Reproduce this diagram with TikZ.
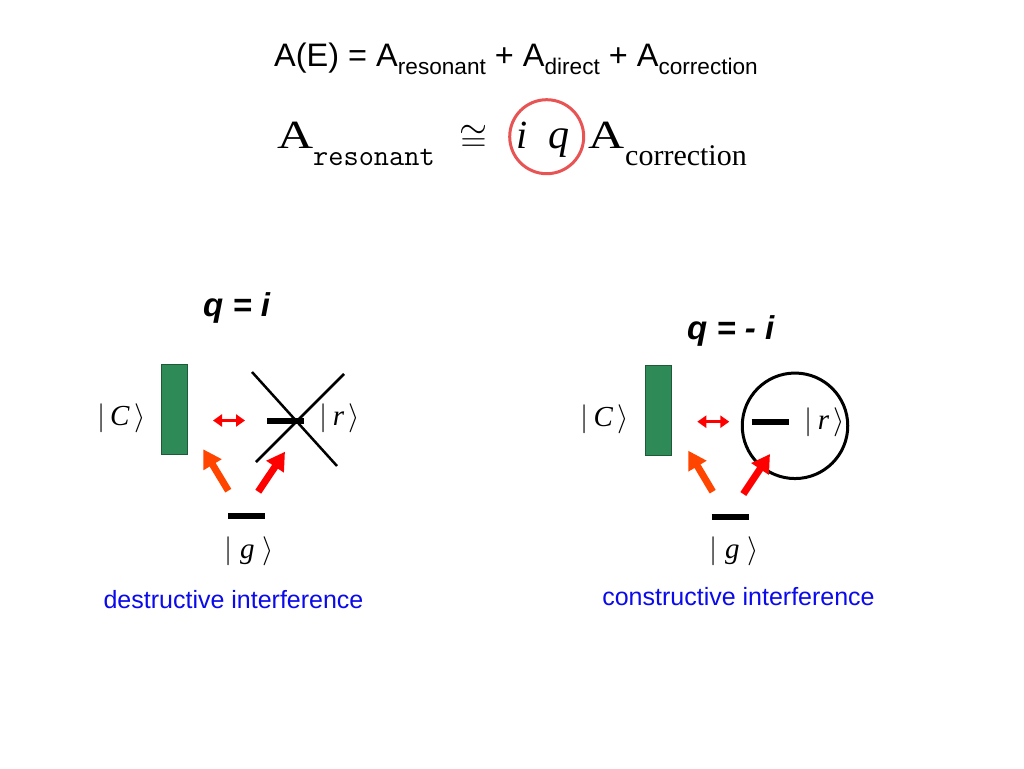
\RequirePackage{fix-cm}
\documentclass[tikz,border=0pt]{standalone}
\usepackage{fontspec}
\usepackage{graphicx}
\usetikzlibrary{arrows.meta}
\newfontfamily\arialf{Liberation Sans}
\newfontfamily\timesf{Liberation Serif}
\definecolor{ketgreen}{RGB}{46,139,87}
\definecolor{ketgreenb}{RGB}{30,90,55}
\definecolor{orred}{RGB}{255,69,0}
\definecolor{circred}{RGB}{232,84,84}
\definecolor{txtblue}{RGB}{10,10,235}
\newcommand\mysub[1]{\raisebox{-7.6pt}{\fontsize{22.6}{24}\selectfont #1}}
\newcommand\wideA{\scalebox{1.25}[1]{A}}
\newcommand\kl[1]{\mbox{\timesf\itshape #1}}
\begin{document}
\begin{tikzpicture}[x=1pt,y=-1pt,
  greenbox/.style={draw=ketgreenb, fill=ketgreen, line width=1pt, minimum width=26pt, minimum height=90pt, inner sep=0pt},
  ket/.style={inner sep=0pt, font=\fontsize{29}{30}\selectfont},
  levelbar/.style={line width=6pt},
  xline/.style={line width=2.5pt},
  dblarrow/.style={red, line width=3pt, {Triangle[width=12pt,length=9pt]}-{Triangle[width=12pt,length=9pt]}},
  fatarrow/.style={line width=7pt, -{Triangle[width=20pt,length=18pt]}},
  qlabel/.style={inner sep=0pt, anchor=base west, font=\arialf\bfseries\itshape\fontsize{33}{36}\selectfont},
  note/.style={inner sep=0pt, anchor=base, text=txtblue, font=\arialf\fontsize{25}{30}\selectfont},
  serifbig/.style={inner sep=0pt, font=\timesf\fontsize{40}{44}\selectfont},
  ring/.style={draw, circle, line width=3pt, inner sep=0pt}
]
\useasboundingbox (0,0) rectangle (1024,768);
\fill[white] (0,0) rectangle (1024,768);

% ---- top equations
\node[anchor=base west, inner sep=0pt, font=\arialf\fontsize{32.5}{40}\selectfont] (eqsum) at (274,66.7)
  {A(E) = A\mysub{resonant} + A\mysub{direct} + A\mysub{correction}};

\node[serifbig, anchor=base west] (ares) at (277,148.3) {\wideA};
\node[anchor=base west, inner sep=0pt, font=\fontsize{29.5}{32}\selectfont\ttfamily] (sres) at (313,165) {resonant};
\node[inner sep=0pt, anchor=base, font=\fontsize{36}{40}\selectfont] (cong) at (473.5,150.6) {$\cong$};
\node[serifbig, anchor=base, font=\timesf\itshape\fontsize{40}{44}\selectfont] (iota) at (522.5,148.3) {i};
\node[serifbig, anchor=base, font=\timesf\itshape\fontsize{42}{44}\selectfont] (qq) at (559,148.3) {q};
\node[serifbig, anchor=base west] (acor) at (588,148.3) {\wideA};
\node[anchor=base west, inner sep=0pt, font=\timesf\fontsize{30}{32}\selectfont] (scor) at (625,165) {correction};
\node[ring, draw=circred, minimum size=74pt] (iqring) at (546.7,136.7) {};

% ---- left diagram: q = i
\node[qlabel] (qL) at (203,316.7) {q = i};
\node[greenbox] (cL) at (174,409) {};
\node[ket] (cLlab) at (121.5,418) {$|\,\kl{C}\,\rangle$};
\coordinate (dLa) at (213,420.5);
\coordinate (dLb) at (245,420.5);
\draw[dblarrow] (dLa) -- (dLb);
\coordinate (rLa) at (267,421);
\coordinate (rLb) at (304,421);
\draw[levelbar] (rLa) -- (rLb);
\coordinate (xa1) at (252,372);
\coordinate (xa2) at (337,466);
\coordinate (xb1) at (344,374);
\coordinate (xb2) at (256,462);
\draw[xline] (xa1) -- (xa2);
\draw[xline] (xb1) -- (xb2);
\node[ket] (rLlab) at (340,418) {$|\,\kl{r}\,\rangle$};
\coordinate (gLa) at (228,516);
\coordinate (gLb) at (265,516);
\draw[levelbar] (gLa) -- (gLb);
\node[ket] (gLlab) at (249,551) {$|\;\kl{g}\;\rangle$};
\coordinate (aL1s) at (228.3,490.7);
\coordinate (aL1e) at (203.3,449.3);
\coordinate (aL2s) at (258.3,491.7);
\coordinate (aL2e) at (285,451.7);
\draw[fatarrow, orred] (aL1s) -- (aL1e);
\draw[fatarrow, red] (aL2s) -- (aL2e);
\node[note] (nL) at (233.5,608.5) {destructive interference};

% ---- right diagram: q = - i
\node[qlabel] (qR) at (687,339.3) {q = - i};
\node[greenbox] (cR) at (658.5,410) {};
\node[ket] (cRlab) at (605,419) {$|\,\kl{C}\,\rangle$};
\coordinate (dRa) at (697.3,421.7);
\coordinate (dRb) at (729.3,421.7);
\draw[dblarrow] (dRa) -- (dRb);
\node[ring, draw=black, minimum size=105.5pt] (rRring) at (795,425.8) {};
\coordinate (rRa) at (751.7,421.7);
\coordinate (rRb) at (789,421.7);
\draw[levelbar] (rRa) -- (rRb);
\node[ket] (rRlab) at (825,422) {$|\,\kl{r}\,\rangle$};
\coordinate (gRa) at (711.7,516.7);
\coordinate (gRb) at (749.3,516.7);
\draw[levelbar] (gRa) -- (gRb);
\node[ket] (gRlab) at (734,551) {$|\;\kl{g}\;\rangle$};
\coordinate (aR1s) at (712.7,491.7);
\coordinate (aR1e) at (688.3,450.7);
\coordinate (aR2s) at (743.3,494);
\coordinate (aR2e) at (770,454);
\draw[fatarrow, orred] (aR1s) -- (aR1e);
\draw[fatarrow, red] (aR2s) -- (aR2e);
\node[note] (nR) at (738.5,605.5) {constructive interference};
\end{tikzpicture}
\end{document}
